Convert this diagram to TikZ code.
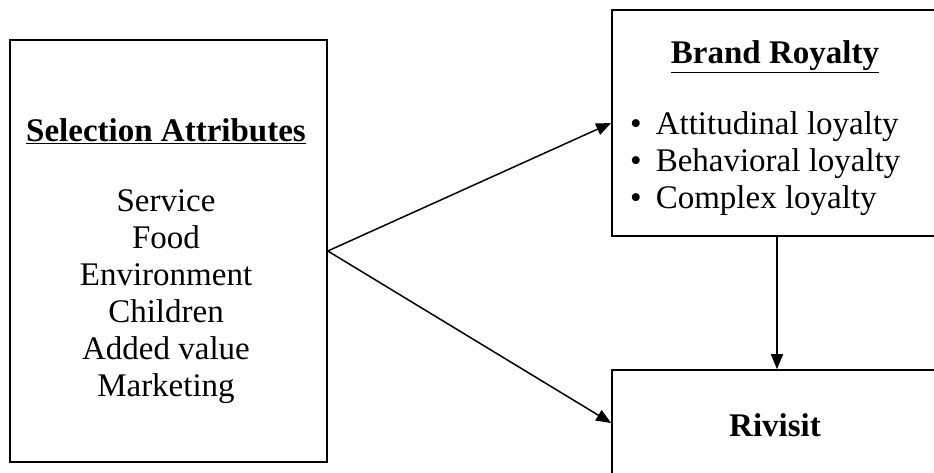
\documentclass[tikz,border=0pt]{standalone}
\usepackage{fontspec}
\setmainfont{Liberation Serif}
\usetikzlibrary{arrows.meta, positioning}

\begin{document}
\begin{tikzpicture}[x = 1pt, y = -1pt,
		box/.style = {draw, line width = 1.6pt, inner sep = 0pt},
		txt/.style = {inner sep = 0pt, align = center, font = \fontsize{33}{37}\selectfont},
		link/.style = {-{Triangle[length = 15pt, width = 12pt]}, line width = 1.5pt}]
			\useasboundingbox (0,0) rectangle (934,472);
			\clip (0,0) rectangle (934,472);

			% boxes
			\node [box, minimum width = 317pt, minimum height = 422pt] (attr) at (168.5,251) {};
			\node [box, minimum width = 330pt, minimum height = 226pt] (brand) at (777,123) {};
			\node [box, minimum width = 330pt, minimum height = 106pt] (revisit) at (777,423) {};

			% texts
			\node [txt] (attrtext) at (166,261) {\textbf{\underline{Selection Attributes}}\\[33pt]
				Service\\ Food\\ Environment\\ Children\\ Added value\\ Marketing};
			\node [txt] (brandhead) at (775,57) {\textbf{\underline{Brand Royalty}}};
			\node [txt, align = left, anchor = north west] (brandlist) at (630,111)
				{\textbullet\hspace{14pt}Attitudinal loyalty\\ \textbullet\hspace{14pt}Behavioral loyalty\\ \textbullet\hspace{14pt}Complex loyalty};
			\node [txt] (revisittext) at (775,425) {\textbf{Rivisit}};

			% links
			\draw [link] (attr.east) -- (brand.west);
			\draw [link] (attr.east) -- (revisit.west);
			\draw [link] (brand.south) -- (revisit.north);
		\end{tikzpicture}
\end{document}
